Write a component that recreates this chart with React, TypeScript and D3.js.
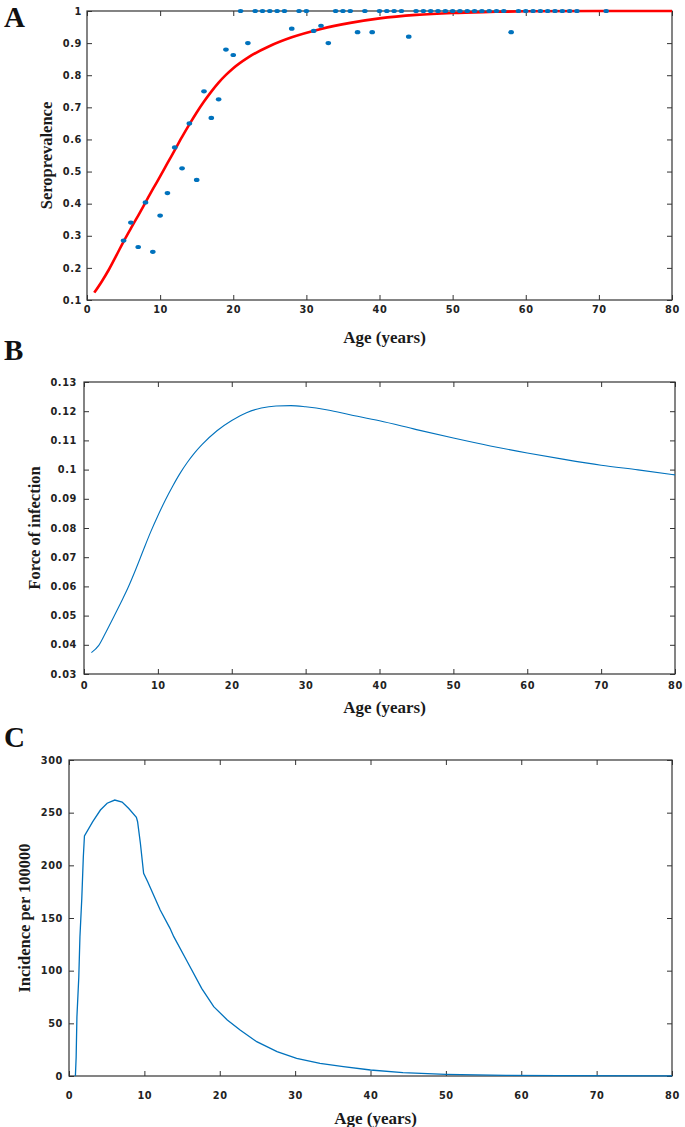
import React, { useEffect, useRef } from "react";
import * as d3 from "d3";

// ---------- Panel A: seroprevalence ----------
const seroAges = [5, 6, 7, 8, 9, 10, 11, 12, 13, 14, 15, 16, 17, 18, 19, 20, 21, 22, 23, 24, 25, 26, 27, 28, 29, 30, 31, 32, 33, 34, 35, 36, 37, 38, 39, 40, 41, 42, 43, 44, 45, 46, 47, 48, 49, 50, 51, 52, 53, 54, 55, 56, 57, 58, 59, 60, 61, 62, 63, 64, 65, 66, 67, 71];
const seroValues = [0.285, 0.341, 0.265, 0.404, 0.25, 0.363, 0.433, 0.575, 0.51, 0.65, 0.474, 0.75, 0.667, 0.725, 0.88, 0.863, 1, 0.9, 1, 1, 1, 1, 1, 0.945, 1, 1, 0.938, 0.954, 0.9, 1, 1, 1, 0.934, 1, 0.934, 1, 1, 1, 1, 0.92, 1, 1, 1, 1, 1, 1, 1, 1, 1, 1, 1, 1, 1, 0.934, 1, 1, 1, 1, 1, 1, 1, 1, 1, 1];
const fitAges = [1, 2, 3, 4, 5, 6, 7, 8, 9, 10, 11, 12, 13, 14, 15, 16, 17, 18, 19, 20, 22, 25, 28, 32, 36, 40, 45, 50, 55, 60, 70, 80];
const fitValues = [0.123, 0.157, 0.195, 0.238, 0.282, 0.323, 0.363, 0.404, 0.445, 0.485, 0.526, 0.567, 0.608, 0.647, 0.684, 0.718, 0.749, 0.777, 0.801, 0.822, 0.855, 0.891, 0.918, 0.944, 0.963, 0.977, 0.988, 0.994, 0.997, 0.999, 1.0, 1.0];
const seroTicks = [0.1, 0.2, 0.3, 0.4, 0.5, 0.6, 0.7, 0.8, 0.9, 1];

// ---------- Panel B: force of infection ----------
const forceAges = [1, 2, 3, 4, 5, 6, 7, 8, 9, 10, 11, 12, 13, 14, 15, 16, 18, 20, 22, 24, 26, 28, 30, 33, 36, 40, 45, 50, 55, 60, 65, 70, 75, 80];
const forceValues = [0.0373, 0.0398, 0.0445, 0.0494, 0.0545, 0.0598, 0.0658, 0.0722, 0.0785, 0.0842, 0.0895, 0.0943, 0.0987, 0.1025, 0.1058, 0.1086, 0.1133, 0.1168, 0.1195, 0.1211, 0.1218, 0.1219, 0.1215, 0.1204, 0.1188, 0.1167, 0.1137, 0.1108, 0.1081, 0.1057, 0.1035, 0.1015, 0.0999, 0.0982];
const forceTicks = [0.03, 0.04, 0.05, 0.06, 0.07, 0.08, 0.09, 0.1, 0.11, 0.12, 0.13];

// ---------- Panel C: incidence ----------
const incAges = [0.85, 0.95, 1.05, 1.3, 1.45, 1.7, 1.9, 2.05, 3.15, 4.17, 5.06, 6.07, 7.05, 7.93, 8.94, 9.1, 9.47, 9.9, 10.44, 12.1, 13.4, 13.9, 15.7, 17.6, 19.2, 21, 22.7, 24.9, 27.6, 30.2, 33.3, 36.4, 40, 44.3, 50, 58, 65, 80];
const incValues = [0, 18, 56, 94, 132, 169, 208, 228, 241.5, 252.5, 259, 262, 260, 254, 245.6, 241.4, 221, 192.5, 184.5, 157.6, 140.2, 132.3, 108.5, 83.2, 65.8, 53.2, 43.7, 32.6, 23.1, 16.8, 12, 8.9, 5.7, 3.2, 1.6, 0.6, 0.3, 0.15];
const incTicks = [0, 50, 100, 150, 200, 250, 300];

const ageTicks = [0, 10, 20, 30, 40, 50, 60, 70, 80];

const BLUE = "#0072BD";
const TICK_FONT = "'DejaVu Sans', Arial, sans-serif";
const SERIF = "'Liberation Serif', 'Times New Roman', serif";

type Panel = {
  letter: string;
  letterY: number;
  left: number; right: number; top: number; bottom: number;
  yDomain: [number, number];
  yTicks: number[];
  yFmt: (d: number) => string;
  yLabel: string;
  yLabelX: number;
  yPad: number;
  xPad: number;
  xLabelY: number;
};

export default function App() {
  const ref = useRef<SVGSVGElement>(null);

  useEffect(() => {
    const svg = d3.select(ref.current);
    svg.selectAll("*").remove();

    const panels: Panel[] = [
      { letter: "A", letterY: 27, left: 87, right: 672, top: 11, bottom: 300, yDomain: [0.1, 1], yTicks: seroTicks,
        yFmt: (d) => (d === 1 ? "1" : d.toFixed(1)), yLabel: "Seroprevalence", yLabelX: 46, yPad: 5, xPad: 6, xLabelY: 343 },
      { letter: "B", letterY: 360, left: 84, right: 675, top: 382, bottom: 674, yDomain: [0.03, 0.13], yTicks: forceTicks,
        yFmt: (d) => String(+d.toFixed(2)), yLabel: "Force of infection", yLabelX: 34, yPad: 7, xPad: 8, xLabelY: 713 },
      { letter: "C", letterY: 747, left: 69, right: 672, top: 760, bottom: 1076, yDomain: [0, 300], yTicks: incTicks,
        yFmt: (d) => String(d), yLabel: "Incidence per 100000", yLabelX: 24, yPad: 6, xPad: 16, xLabelY: 1124 },
    ];

    const scales = panels.map((p) => {
      const x = d3.scaleLinear().domain([0, 80]).range([p.left, p.right]);
      const y = d3.scaleLinear().domain(p.yDomain).range([p.bottom, p.top]);
      return { x, y };
    });

    panels.forEach((p, i) => {
      const { x, y } = scales[i];
      const g = svg.append("g");

      // panel letter
      g.append("text").attr("x", 4).attr("y", p.letterY).text(p.letter)
        .attr("font-family", SERIF).attr("font-weight", "bold").attr("font-size", 29).attr("fill", "#111");

      const styleAxis = (sel: d3.Selection<SVGGElement, unknown, null, undefined>) => {
        sel.select(".domain").remove();
        sel.selectAll("line").attr("stroke", "#333");
        sel.selectAll("text").attr("font-family", TICK_FONT).attr("font-weight", "bold")
          .attr("font-size", 9.8).attr("letter-spacing", 0.6).attr("fill", "#222");
      };
      g.append("g").attr("transform", `translate(0,${p.bottom})`)
        .call(d3.axisBottom(x).tickValues(ageTicks).tickSizeInner(-5).tickSizeOuter(0).tickPadding(p.xPad).tickFormat(d3.format("d")))
        .call(styleAxis);
      g.append("g").attr("transform", `translate(0,${p.top})`)
        .call(d3.axisTop(x).tickValues(ageTicks).tickSizeInner(-5).tickSizeOuter(0).tickFormat(() => ""))
        .call(styleAxis);
      g.append("g").attr("transform", `translate(${p.left},0)`)
        .call(d3.axisLeft(y).tickValues(p.yTicks).tickSizeInner(-5).tickSizeOuter(0).tickPadding(p.yPad).tickFormat((d) => p.yFmt(+d)))
        .call(styleAxis);
      g.append("g").attr("transform", `translate(${p.right},0)`)
        .call(d3.axisRight(y).tickValues(p.yTicks).tickSizeInner(-5).tickSizeOuter(0).tickFormat(() => ""))
        .call(styleAxis);

      g.append("rect").attr("x", p.left).attr("y", p.top).attr("width", p.right - p.left).attr("height", p.bottom - p.top)
        .attr("fill", "none").attr("stroke", "#333").attr("stroke-width", 1.2);

      g.append("text").attr("x", (p.left + p.right) / 2 + 5).attr("y", p.xLabelY).attr("text-anchor", "middle")
        .attr("font-family", SERIF).attr("font-weight", "bold").attr("font-size", 17).attr("fill", "#1a1a1a").text("Age (years)");
      g.append("text").attr("transform", `translate(${p.yLabelX},${(p.top + p.bottom) / 2}) rotate(-90)`)
        .attr("text-anchor", "middle").attr("dy", "0.35em")
        .attr("font-family", SERIF).attr("font-weight", "bold").attr("font-size", 16.5).attr("fill", "#1a1a1a").text(p.yLabel);
    });

    // Panel A data
    {
      const { x, y } = scales[0];
      const g = svg.append("g");
      const line = d3.line<number>().x((_, i) => x(fitAges[i])).y((d) => y(d)).curve(d3.curveMonotoneX);
      g.append("path").attr("d", line(fitValues)).attr("fill", "none").attr("stroke", "#ff0000").attr("stroke-width", 2.6);
      g.selectAll("ellipse").data(seroValues).join("ellipse")
        .attr("cx", (_, i) => x(seroAges[i])).attr("cy", (d) => y(d)).attr("rx", 2.8).attr("ry", 2.1).attr("fill", BLUE);
    }
    // Panel B
    {
      const { x, y } = scales[1];
      const line = d3.line<number>().x((_, i) => x(forceAges[i])).y((d) => y(d)).curve(d3.curveMonotoneX);
      svg.append("path").attr("d", line(forceValues)).attr("fill", "none").attr("stroke", BLUE).attr("stroke-width", 1.1);
    }
    // Panel C
    {
      const { x, y } = scales[2];
      const line = d3.line<number>().x((_, i) => x(incAges[i])).y((d) => y(d));
      svg.append("path").attr("d", line(incValues)).attr("fill", "none").attr("stroke", BLUE).attr("stroke-width", 1.3);
    }
  }, []);

  return (
    <svg ref={ref} width={685} height={1127} style={{ position: "absolute", left: 0, top: 0, background: "#fff" }} />
  );
}
